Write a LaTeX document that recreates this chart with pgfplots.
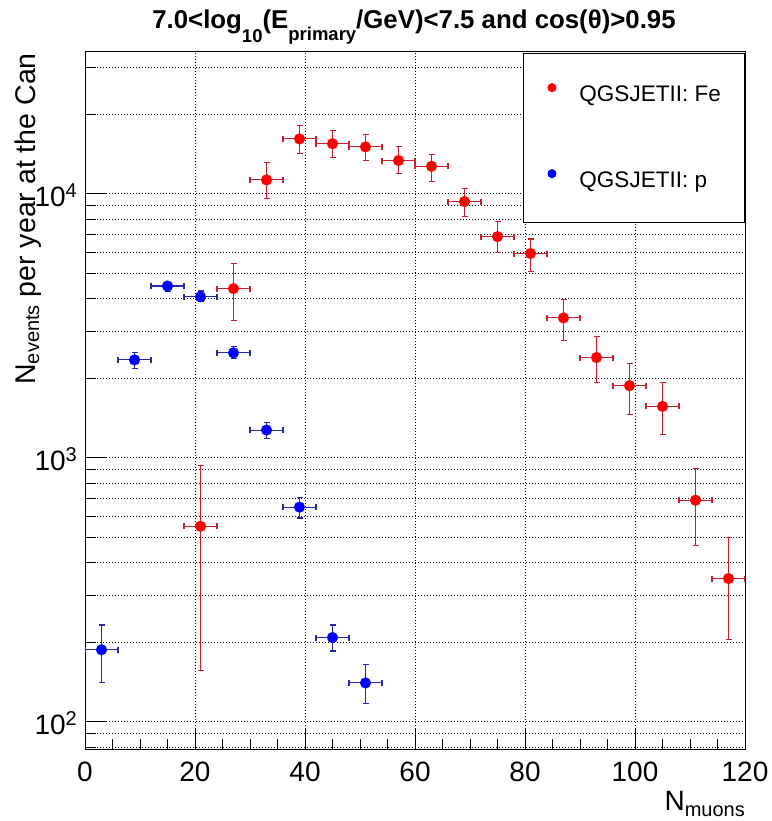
\documentclass[border=0pt]{standalone}
\usepackage{fontspec}
\setmainfont{Liberation Sans}
\usepackage{pgfplots}
\usepackage{pgfplotstable}
\pgfplotsset{compat=1.18}
\definecolor{febar}{RGB}{205,30,45}
\definecolor{pbar}{RGB}{40,40,175}
\newcommand\tsub[2]{\raisebox{-#1}{\fontsize{18.5}{18.5}\selectfont #2}}
\newcommand\lsub[1]{\raisebox{-4pt}{\fontsize{20}{20}\selectfont #1}}
\newcommand\ex[1]{10\raisebox{9pt}{\fontsize{20}{20}\selectfont #1}}
\pgfplotstableread{
x y ex eyp eym
21 549 3 386 393
27 4365 3 1065 1060
33 11270 3 1800 1720
39 16110 3 2020 1930
45 15460 3 1820 1810
51 15030 3 1700 1730
57 13340 3 1690 1470
63 12690 3 1330 1560
69 9330 3 1140 1130
75 6870 3 940 880
81 5930 3 800 850
87 3380 3 575 606
93 2393 3 473 474
99 1872 3 403 413
105 1563 3 359 341
111 689 3 219 225
117 348 3 151 143
}\fetable
\pgfplotstableread{
x y ex eyp eym
3 187 3 45 47
9 2344 3 149 166
15 4466 3 150 220
21 4067 3 210 177
27 2493 3 133 125
33 1271 3 82 88
39 649 3 59 59
45 208 3 24 23
51 140 3 24 23
}\ptable
\begin{document}
\begin{tikzpicture}
\useasboundingbox (0,0) rectangle (771pt,821pt);
\begin{axis}[
  at={(85pt,71pt)}, anchor=south west,
  scale only axis, width=660pt, height=698pt,
  xmin=0, xmax=120, ymode=log, log basis y=10, ymin=78, ymax=34400,
  axis line style={black, line width=1pt},
  xtick={0,20,40,60,80,100,120},
  xticklabels={0,20,40,60,80,100,120},
  minor xtick={5,10,15,25,30,35,45,50,55,65,70,75,85,90,95,105,110,115},
  ytick={100,1000,10000},
  yticklabels={\ex{2},\ex{3},\ex{4}},
  minor ytick={80,90,200,300,400,500,600,700,800,900,2000,3000,4000,5000,6000,7000,8000,9000,20000,30000},
  tick align=inside, xtick pos=bottom, ytick pos=left,
  major tick length=22pt, minor tick length=11pt,
  every tick/.style={black, line width=1pt},
  xmajorgrids=true, ymajorgrids=true, yminorgrids=true,
  grid style={black, line width=0.6pt, dash pattern=on 1pt off 2pt},
  minor grid style={black, line width=0.6pt, dash pattern=on 1pt off 2pt},
  tick label style={font=\fontsize{28}{28}\selectfont},
  xticklabel style={anchor=north, inner sep=0pt, yshift=-11.5pt},
  yticklabel style={anchor=base east, inner sep=0pt, xshift=-8pt, yshift=-13pt},
  legend cell align=left,
  legend style={at={(rel axis cs:0.6636,0.999)}, anchor=north west, draw=black,
    line width=1pt, fill=white, inner xsep=24pt, inner ysep=30pt,
    row sep=63pt, column sep=23pt,
    nodes={inner sep=0pt, text height=16pt, text depth=5pt},
    font=\fontsize{22.5}{27}\selectfont},
]
\addlegendimage{legend image code/.code={\fill[red] (0pt,8pt) circle (4pt);}}
\addlegendentry{QGSJETII: Fe}
\addlegendimage{legend image code/.code={\fill[blue] (0pt,8pt) circle (4pt);}}
\addlegendentry{QGSJETII: p}
\addplot[forget plot, only marks, mark=*, mark size=5.5pt, mark options={fill=red, draw=red, line width=0.1pt},
  error bars/.cd, x dir=both, x explicit, y dir=both, y explicit,
  error bar style={febar, line width=1.1pt},
  error mark options={febar, line width=1.1pt, mark size=3pt, rotate=90}]
  table[x=x, y=y, x error=ex, y error plus=eyp, y error minus=eym] {\fetable};
\addplot[forget plot, only marks, mark=*, mark size=5.5pt, mark options={fill=blue, draw=blue, line width=0.1pt},
  error bars/.cd, x dir=both, x explicit, y dir=both, y explicit,
  error bar style={pbar, line width=1.1pt},
  error mark options={pbar, line width=1.1pt, mark size=3pt, rotate=90}]
  table[x=x, y=y, x error=ex, y error plus=eyp, y error minus=eym] {\ptable};
\end{axis}
\node[anchor=base, font=\bfseries\fontsize{25.8}{25.8}\selectfont] at (414pt,792.7pt)
  {7.0<log\tsub{14pt}{10}(E\tsub{12pt}{primary}/GeV)<7.5 and cos(θ)>0.95};
\node[anchor=base east, rotate=90, inner sep=0pt, font=\fontsize{28.5}{28.5}\selectfont] at (35pt,768pt)
  {N\lsub{events} per year at the Can};
\node[anchor=base east, inner sep=0pt, font=\fontsize{28}{28}\selectfont] at (745pt,10pt)
  {N\raisebox{-6pt}{\fontsize{20}{20}\selectfont muons}};
\end{tikzpicture}
\end{document}
